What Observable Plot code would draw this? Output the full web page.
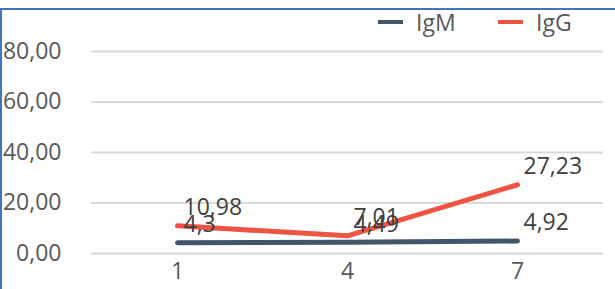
<!DOCTYPE html>
<html>
<head>
<meta charset="utf-8">
<script src="https://cdn.jsdelivr.net/npm/d3@7"></script>
<script src="https://cdn.jsdelivr.net/npm/@observablehq/plot@0.6"></script>
<style>
  html, body { margin: 0; padding: 0; background: #fff; }
  #wrap { position: relative; width: 615px; height: 289px; overflow: hidden; font-family: "Open Sans", sans-serif; }
  #frame { position: absolute; left: 0; top: 8px; right: 0; bottom: 0; border-top: 2px solid #4472C4; border-left: 2px solid #4472C4; }
  #chart { position: absolute; left: 0; top: 0; }
  .leg { position: absolute; top: 5px; font-size: 23px; color: #595959; line-height: 34px; display: flex; align-items: center; }
  .sw { display: inline-block; width: 25px; height: 4px; margin-right: 13px; }
</style>
</head>
<body>
<div id="wrap">
  <div id="frame"></div>
  <div id="chart"></div>
  <div class="leg" style="left:378px"><span class="sw" style="background:#44546A"></span>IgM</div>
  <div class="leg" style="left:498px"><span class="sw" style="background:#EF5341"></span>IgG</div>
</div>
<script>
const categories = ["1", "4", "7"];
const seriesNames = ["IgM", "IgG"];
const igm = [4.3, 4.49, 4.92];
const igg = [10.98, 7.01, 27.23];
const yTicks = [0, 20, 40, 60, 80];
const colors = {IgM: "#44546A", IgG: "#EF5341"};

const rows = [];
[igm, igg].forEach((vals, si) => {
  vals.forEach((v, i) => rows.push({cat: categories[i], value: v, series: seriesNames[si]}));
});
const fmtComma = d => String(d).replace(".", ",");

const chart = Plot.plot({
  width: 615,
  height: 289,
  marginLeft: 91,
  marginRight: 12,
  marginTop: 51,
  marginBottom: 36,
  style: {fontFamily: "'Open Sans', sans-serif", fontSize: "23px", color: "#595959", background: "transparent", overflow: "visible"},
  x: {type: "point", domain: categories, padding: 0.5, tickSize: 0, tickPadding: 9, label: null},
  y: {domain: [0, 80], ticks: yTicks, tickSize: 0, tickPadding: 30, label: null,
      tickFormat: d => d.toFixed(2).replace(".", ",")},
  marks: [
    Plot.ruleY(yTicks, {stroke: "#D9D9D9", strokeWidth: 2}),
    ...seriesNames.map(s => Plot.line(rows.filter(r => r.series === s), {
      x: "cat", y: "value", stroke: colors[s], strokeWidth: 5, strokeLinecap: "round", strokeLinejoin: "round"
    })),
    Plot.text(rows, {x: "cat", y: "value", text: d => fmtComma(d.value), textAnchor: "start",
      dx: 6, dy: -18, fontSize: 23, fill: "#404040"})
  ]
});
document.getElementById("chart").appendChild(chart);
</script>
</body>
</html>
